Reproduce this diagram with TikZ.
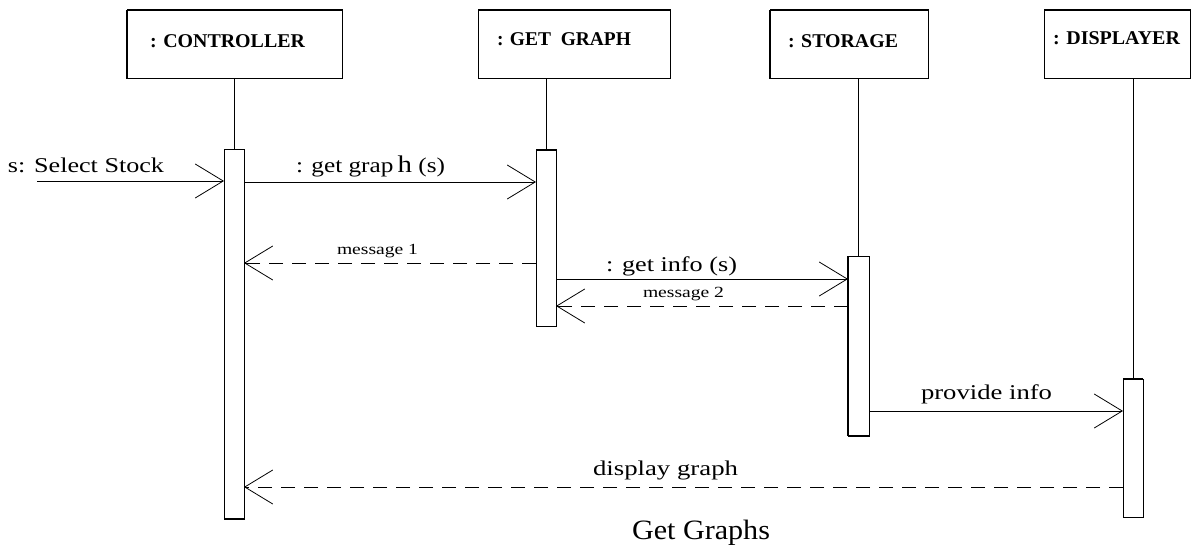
\documentclass[tikz,border=0pt]{standalone}
\usepackage{fontspec}
\setmainfont{Liberation Serif}
\usepackage{graphicx}
\usetikzlibrary{arrows.meta}
\newcommand{\fitw}[2]{\resizebox{#1pt}{\height}{#2}}
\begin{document}
\begin{tikzpicture}[x=1pt,y=-1pt,
  line width=1pt,
  obj/.style={draw, line width=1pt, inner sep=0, outer sep=0, anchor=north west},
  act/.style={draw, fill=white, line width=1pt, inner sep=0, outer sep=0, minimum width=20pt, anchor=north},
  thk/.style={line width=2.4pt},
  msg/.style={-{Straight Barb[length=28pt,width=34pt,line width=0.8pt]}, line width=0.9pt},
  ret/.style={msg, dash pattern=on 14pt off 9pt},
  lbl/.style={inner sep=0, outer sep=0, anchor=base west, font=\fontsize{21}{24}\selectfont},
  small/.style={lbl, font=\fontsize{15.5}{18}\selectfont},
  hdr/.style={lbl, font=\bfseries\fontsize{19.5}{22}\selectfont},
  ttl/.style={lbl, font=\fontsize{28}{30}\selectfont}]
\useasboundingbox (0,0) rectangle (1196,548);

% object boxes
\node[obj, minimum width=215pt, minimum height=69pt] (bC) at (127,10) {};
\node[obj, minimum width=192pt, minimum height=69pt] (bG) at (478,10) {};
\node[obj, minimum width=158pt, minimum height=69pt] (bS) at (770,10) {};
\node[obj, minimum width=146pt, minimum height=69pt] (bD) at (1044,10) {};
\foreach \b in {bC,bG,bS,bD} \draw[thk] (\b.north west) -- (\b.north east);
\draw[line width=1.8pt] (bC.north west) -- (bC.south west);
\draw[line width=1.8pt] (bS.north west) -- (bS.south west);

\node[hdr] (tC) at (150,48) {\fitw{155}{: CONTROLLER}};
\node[hdr] (tG) at (497,46) {\fitw{134}{: GET\ \ GRAPH}};
\node[hdr] (tS) at (788,48) {\fitw{110}{: STORAGE}};
\node[hdr] (tD) at (1053,45) {\fitw{127}{: DISPLAYER}};

% activations
\node[act, minimum height=369pt] (actC) at (234,150) {};
\node[act, minimum height=176pt] (actG) at (546,150) {};
\node[act, minimum width=21pt, minimum height=180pt] (actS) at (858.5,256) {};
\node[act, minimum height=138pt] (actD) at (1133,379) {};

% lifelines
\draw (actC.north |- bC.south) -- (actC.north);
\draw (actG.north |- bG.south) -- (actG.north);
\draw (actS.north |- bS.south) -- (actS.north);
\draw (actD.north |- bD.south) -- (actD.north);

% thick edges on activations
\draw[thk] (actC.south west) -- (actC.south east);
\draw[line width=1.8pt] (actG.north west) -- (actG.north east);
\draw[line width=2pt] (actS.north west) -- (actS.south west);
\draw[line width=2pt] (actS.south west) -- (actS.south east);
\draw[line width=1.8pt] (actD.north west) -- (actD.north east);

% message levels
\coordinate (ssrc) at (37,181);
\coordinate (m2) at (0,182);
\coordinate (m3) at (0,263);
\coordinate (m4) at (0,279);
\coordinate (m5) at (0,306);
\coordinate (m6) at (0,411);
\coordinate (m7) at (0,487);

% messages
\draw[msg] (ssrc) -- (ssrc -| actC.west);
\draw[msg] (actC.east |- m2) -- (actG.west |- m2);
\draw[ret] (actG.west |- m3) -- (actC.east |- m3);
\draw[msg] (actG.east |- m4) -- (actS.west |- m4);
\draw[ret] (actS.west |- m5) -- (actG.east |- m5);
\draw[msg] (actS.east |- m6) -- (actD.west |- m6);
\draw[ret] (actD.west |- m7) -- (actC.east |- m7);

% labels
\node[lbl] (l1) at (8,173) {\fitw{156}{s: Select Stock}};
\node[lbl] (l2) at (296,173) {\fitw{149}{: get grap\,{\fontsize{24}{26}\selectfont h} (s)}};
\node[small] (l3) at (337,254) {\fitw{81}{message 1}};
\node[lbl] (l4) at (606,271) {\fitw{131}{: get info (s)}};
\node[small] (l5) at (643,297) {\fitw{81}{message 2}};
\node[lbl] (l6) at (921,399) {\fitw{131}{provide info}};
\node[lbl] (l7) at (593,475) {\fitw{145}{display graph}};
\node[ttl] (l8) at (632,539) {\fitw{138}{Get Graphs}};
\end{tikzpicture}
\end{document}
